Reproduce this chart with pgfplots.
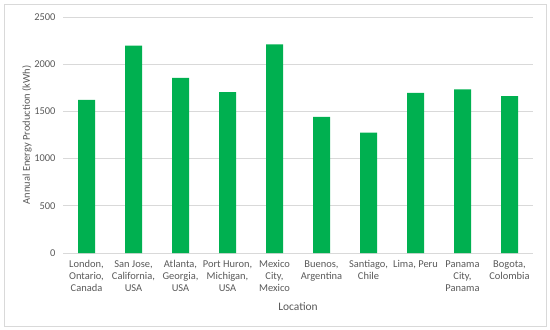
\documentclass[border=0pt]{standalone}
\usepackage{pgfplots}
\pgfplotsset{compat=1.18}
\usepackage{fontspec}
\setmainfont{Carlito}
\definecolor{bargreen}{HTML}{00B050}
\definecolor{txt}{HTML}{595959}
\definecolor{gridc}{HTML}{D9D9D9}
\begin{document}
\begin{tikzpicture}
\path[use as bounding box] (0,0) rectangle (550bp,330bp);
\draw[gridc, line width=0.8bp] (4bp,4bp) rectangle (546bp,326bp);
\begin{axis}[
  at={(63bp,77bp)}, anchor=south west,
  scale only axis, width=470bp, height=236bp,
  xmin=-0.5, xmax=9.5, ymin=0, ymax=2500,
  ytick={0,500,...,2500},
  xtick=data,
  xticklabels={{London,\\Ontario,\\Canada},{San Jose,\\California,\\USA},{Atlanta,\\Georgia,\\USA},{Port Huron,\\Michigan,\\USA},{Mexico\\City,\\Mexico},{Buenos,\\Argentina},{Santiago,\\Chile},{Lima, Peru},{Panama\\City,\\Panama},{Bogota,\\Colombia}},
  x tick label style={align=center, font=\fontsize{10.5}{12}\selectfont, text=txt, anchor=north, yshift=-4bp},
  y tick label style={font=\fontsize{10.5}{12}\selectfont, text=txt, xshift=-4bp},
  /pgf/number format/assume math mode=true,
  /pgf/number format/1000 sep={},
  major tick length=0pt,
  axis lines*=left,
  y axis line style={draw=none},
  x axis line style={gridc, line width=0.8bp, -},
  xmajorgrids=false,
  ymajorgrids=true, grid style={gridc, line width=0.8bp},
  xlabel={Location},
  every axis x label/.style={at={(axis cs:4.5,0)}, anchor=center, yshift=-54bp, font=\fontsize{11.5}{12}\selectfont, text=txt},
  clip=false,
]
\addplot[ybar, bar width=17bp, fill=bargreen, draw=none] coordinates {
(0,1621) (1,2196) (2,1854) (3,1705) (4,2210) (5,1441) (6,1275) (7,1695) (8,1734) (9,1663)};
\end{axis}
\node[rotate=90, anchor=center, font=\fontsize{10.5}{12}\selectfont, text=txt] at (27bp,195bp) {Annual Energy Production (kWh)};
\end{tikzpicture}
\end{document}
